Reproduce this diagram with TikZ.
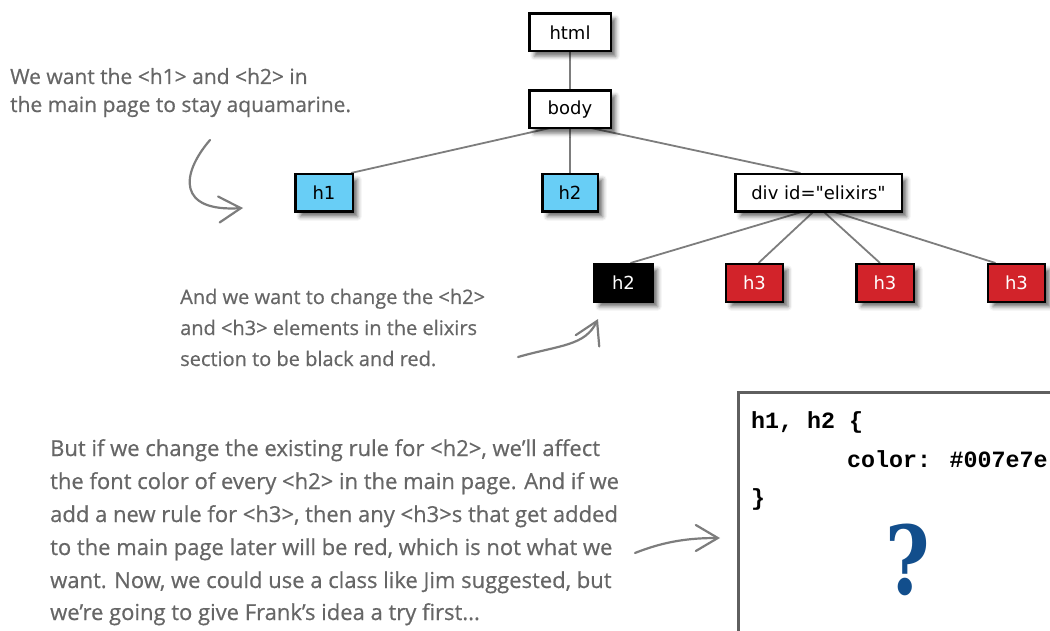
\documentclass[tikz,border=0pt]{standalone}
\usepackage{fontspec}
\setmainfont{DejaVu Sans}
\newfontfamily\nodefont{DejaVu Sans}[Ligatures=TeXOff]
\newfontfamily\hand{Open Sans}[FakeBold=0.6]
\newfontfamily\codefont{Liberation Mono}
\newfontfamily\qfont{DejaVu Serif}
\usetikzlibrary{arrows.meta,backgrounds,shadows.blur}
\definecolor{aqua}{RGB}{104,206,246}
\definecolor{elixred}{RGB}{210,35,42}
\definecolor{linegray}{RGB}{125,125,125}
\definecolor{handgray}{RGB}{102,102,102}
\definecolor{qblue}{RGB}{18,78,140}
\definecolor{boxgray}{RGB}{95,95,95}
\begin{document}
\begin{tikzpicture}[x=1pt,y=-1pt,
  elem/.style={draw=black,line width=2.5pt,minimum height=37.5pt,inner sep=0pt,
    font=\nodefont\fontsize{18}{21}\selectfont,
    blur shadow={shadow xshift=5pt,shadow yshift=-5pt,shadow blur radius=4pt,shadow opacity=55}},
  plain/.style={elem,fill=white},
  blue/.style={elem,fill=aqua},
  red/.style={elem,fill=elixred,text=white},
  blk/.style={elem,fill=black,text=white},
  conn/.style={draw=linegray,line width=1.8pt},
  hand/.style={anchor=base west,inner sep=0pt,text=handgray},
  handA/.style={hand,font=\hand\fontsize{21}{24}\selectfont},
  handB/.style={hand,font=\hand\fontsize{20}{24}\selectfont},
  handC/.style={hand,font=\hand\fontsize{22}{26}\selectfont},
  code/.style={anchor=base west,inner sep=0pt,font=\codefont\bfseries\fontsize{23.3}{26}\selectfont},
  arr/.style={draw=linegray,line width=2.2pt,line cap=round,-{Straight Barb[length=22pt,width=26pt,line cap=round]}}
]
\useasboundingbox (0,0) rectangle (1050,631);

% tree nodes
\node[plain,minimum width=81.5pt] (html) at (570,32.5) {html};
\node[plain,minimum width=81.5pt] (body) at (570,109.5) {body};
\node[blue,minimum width=57.5pt] (h1) at (324,193) {h1};
\node[blue,minimum width=55.5pt] (h2) at (570,193) {h2};
\node[plain,minimum width=166.5pt] (div) at (818.5,193) {div id="elixirs"};
\node[blk,minimum width=58.5pt] (hb) at (623.5,283) {h2};
\node[red,minimum width=57pt] (h3a) at (754.5,283) {h3};
\node[red,minimum width=57.5pt] (h3b) at (885,283) {h3};
\node[red,minimum width=57pt] (h3c) at (1016.5,283) {h3};

\begin{scope}[on background layer]
  \coordinate (bo) at ([yshift=-14pt]body.center);
  \coordinate (do) at ([yshift=-14pt]div.center);
  \draw[conn] (html.center) -- (body.center);
  \draw[conn] (bo) -- ([xshift=-3pt]h1.north east);
  \draw[conn] (bo) -- (h2.north);
  \draw[conn] (bo) -- ([xshift=-18pt]div.north);
  \draw[conn] (do) -- ([xshift=7pt]hb.north);
  \draw[conn] (do) -- ([xshift=4pt]h3a.north);
  \draw[conn] (do) -- ([xshift=-5pt]h3b.north);
  \draw[conn] (do) -- ([xshift=-21pt]h3c.north);
\end{scope}

% handwritten notes
\node[handA] (t1a) at (10,84) {We want the <h1> and <h2> in};
\node[handA] (t1b) at (10,112) {the main page to stay aquamarine.};
\node[handB] (t2a) at (180,304) {And we want to change the <h2>};
\node[handB] (t2b) at (180,335) {and <h3> elements in the elixirs};
\node[handB] (t2c) at (180,366) {section to be black and red.};
\node[handC] (t3a) at (50,456) {But if we change the existing rule for <h2>, we’ll affect};
\node[handC] (t3b) at (50,489) {the font color of every <h2> in the main page. And if we};
\node[handC] (t3c) at (50,522) {add a new rule for <h3>, then any <h3>s that get added};
\node[handC] (t3d) at (50,555) {to the main page later will be red, which is not what we};
\node[handC] (t3e) at (50,588) {want. Now, we could use a class like Jim suggested, but};
\node[handC] (t3f) at (50,620) {we’re going to give Frank’s idea a try first...};

% hand-drawn arrows
\coordinate (a1s) at (210,140);
\coordinate (a1e) at (243,208);
\draw[arr] (a1s) .. controls (180,175) and (178,212) .. (a1e);
\coordinate (a2s) at (518,357);
\coordinate (a2e) at (598,319);
\draw[arr] (a2s) .. controls (560,345) and (585,346) .. (a2e);
\coordinate (a3s) at (635,553);
\coordinate (a3e) at (720,538);
\draw[arr] (a3s) .. controls (665,541) and (690,538) .. (a3e);

% code box
\begin{scope}
  \clip (0,0) rectangle (1050,631);
  \node[draw=boxgray,line width=2.8pt,fill=white,anchor=north west,minimum width=330pt,minimum height=260pt,inner sep=0pt] (codebox) at (737,391) {};
\end{scope}
\node[code] (c1) at (751,428) {h1, h2 \{};
\node[code] (c2) at (847,467) {color: \#007e7e};
\node[code] (c3) at (751,505) {\}};
\node[inner sep=0pt,text=qblue,font=\qfont\bfseries\fontsize{95}{95}\selectfont] (q) at (908,560) {\scalebox{0.8}[1]{?}};
\end{tikzpicture}
\end{document}
